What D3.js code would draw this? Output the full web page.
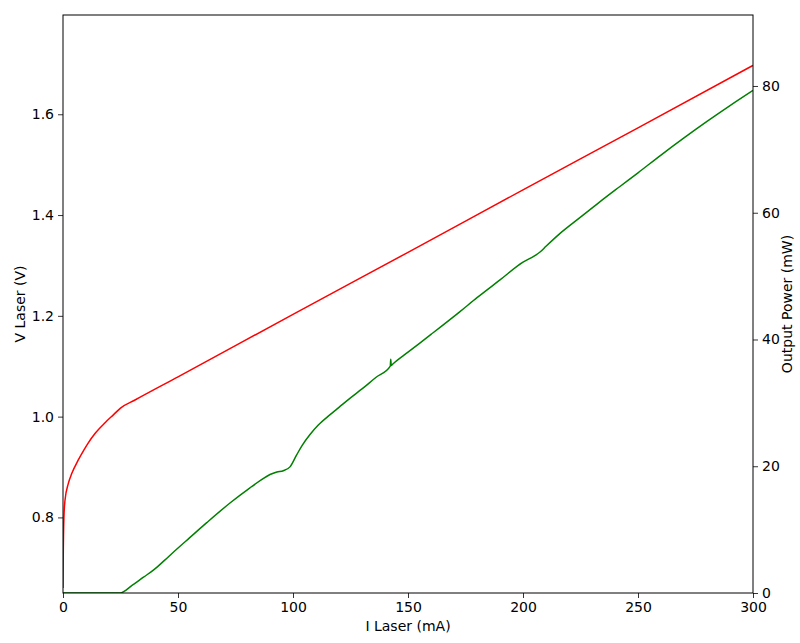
<!DOCTYPE html>
<html><head><meta charset="utf-8">
<script src="https://cdn.jsdelivr.net/npm/d3@7"></script>
<style>body{margin:0;background:#fff}svg text{font-family:"DejaVu Sans",sans-serif}</style>
</head><body>
<script>
// Current (mA) vs voltage (V)
const vCurrent = [0, 0.1, 0.4, 0.87, 2.3, 3.8, 6.65, 9, 11, 14, 18.3, 22, 25, 31.3, 50, 100, 150, 200, 250, 300];
const vVoltage = [0.66, 0.72, 0.80, 0.834, 0.867, 0.887, 0.914, 0.933, 0.948, 0.967, 0.988, 1.004, 1.017, 1.033, 1.079, 1.203, 1.326, 1.450, 1.573, 1.697];
// Current (mA) vs output power (mW)
const pCurrent = [0, 24.8, 30, 35, 39.3, 44, 49.4, 55, 62.5, 72.6, 81.3, 86, 90, 93, 95.8, 98.7, 101.6, 104, 107.4, 111, 116, 120, 125, 130, 136, 142.3, 142.5, 142.7, 143.3, 150, 160, 172.6, 180, 190, 200, 205, 207.4, 210, 216, 225, 233, 242, 250, 260, 270, 280, 290, 300];
const pPower   = [0, 0, 1.2, 2.5, 3.6, 5.1, 6.9, 8.7, 11.1, 14.2, 16.6, 17.8, 18.7, 19.1, 19.3, 19.9, 21.8, 23.3, 25.0, 26.5, 28.1, 29.3, 30.8, 32.2, 34.0, 35.8, 36.9, 35.9, 36.1, 38.0, 40.8, 44.4, 46.6, 49.4, 52.2, 53.2, 53.8, 54.7, 56.7, 59.3, 61.6, 64.1, 66.3, 69.1, 71.8, 74.4, 76.9, 79.3];
const xTicks = [0, 50, 100, 150, 200, 250, 300];
const yLeftTicks = [0.8, 1.0, 1.2, 1.4, 1.6];
const yRightTicks = [0, 20, 40, 60, 80];

const W = 800, H = 643;
const m = {left: 63, right: 47, top: 15, bottom: 50};
const svg = d3.select("body").append("svg").attr("width", W).attr("height", H);
const x = d3.scaleLinear().domain([0, 300]).range([m.left, W - m.right]);
const yL = d3.scaleLinear().domain([0.65, 1.797]).range([H - m.bottom, m.top]);
const yR = d3.scaleLinear().domain([0, 91.2]).range([H - m.bottom, m.top]);

const fmt1 = d3.format(".1f");
function styleAxis(g){
  g.selectAll("path.domain").remove();
  g.selectAll("line").attr("stroke", "#000").attr("stroke-width", 0.8);
  g.selectAll("text").attr("font-size", 14).attr("fill", "#000");
}
svg.append("g").attr("transform", `translate(0,${H - m.bottom})`)
  .call(d3.axisBottom(x).tickValues(xTicks).tickSize(5).tickPadding(4).tickFormat(d3.format("d"))).call(styleAxis);
svg.append("g").attr("transform", `translate(${m.left},0)`)
  .call(d3.axisLeft(yL).tickValues(yLeftTicks).tickSize(5).tickPadding(4).tickFormat(fmt1)).call(styleAxis);
svg.append("g").attr("transform", `translate(${W - m.right},0)`)
  .call(d3.axisRight(yR).tickValues(yRightTicks).tickSize(5).tickPadding(4).tickFormat(d3.format("d"))).call(styleAxis);

svg.append("clipPath").attr("id", "c").append("rect")
  .attr("x", m.left).attr("y", m.top).attr("width", W - m.left - m.right).attr("height", H - m.top - m.bottom);

const vData = vCurrent.map((c, i) => [c, vVoltage[i]]);
const pData = pCurrent.map((c, i) => [c, pPower[i]]);
svg.append("path").datum(pData).attr("clip-path", "url(#c)")
  .attr("fill", "none").attr("stroke", "#008000").attr("stroke-width", 1.5)
  .attr("d", d3.line().x(d => x(d[0])).y(d => yR(d[1])).curve(d3.curveMonotoneX));
svg.append("path").datum(vData).attr("clip-path", "url(#c)")
  .attr("fill", "none").attr("stroke", "#ff0000").attr("stroke-width", 1.5)
  .attr("d", d3.line().x(d => x(d[0])).y(d => yL(d[1])).curve(d3.curveMonotoneX));

svg.append("rect").attr("x", m.left).attr("y", m.top)
  .attr("width", W - m.left - m.right).attr("height", H - m.top - m.bottom)
  .attr("fill", "none").attr("stroke", "#000").attr("stroke-width", 1);

svg.append("text").attr("x", (m.left + W - m.right) / 2).attr("y", 631)
  .attr("text-anchor", "middle").attr("font-size", 14).text("I Laser (mA)");
svg.append("text").attr("transform", `translate(25,${(m.top + H - m.bottom) / 2}) rotate(-90)`)
  .attr("text-anchor", "middle").attr("font-size", 14).text("V Laser (V)");
svg.append("text").attr("transform", `translate(792,${(m.top + H - m.bottom) / 2}) rotate(-90)`)
  .attr("text-anchor", "middle").attr("font-size", 14).text("Output Power (mW)");
</script>
</body></html>
